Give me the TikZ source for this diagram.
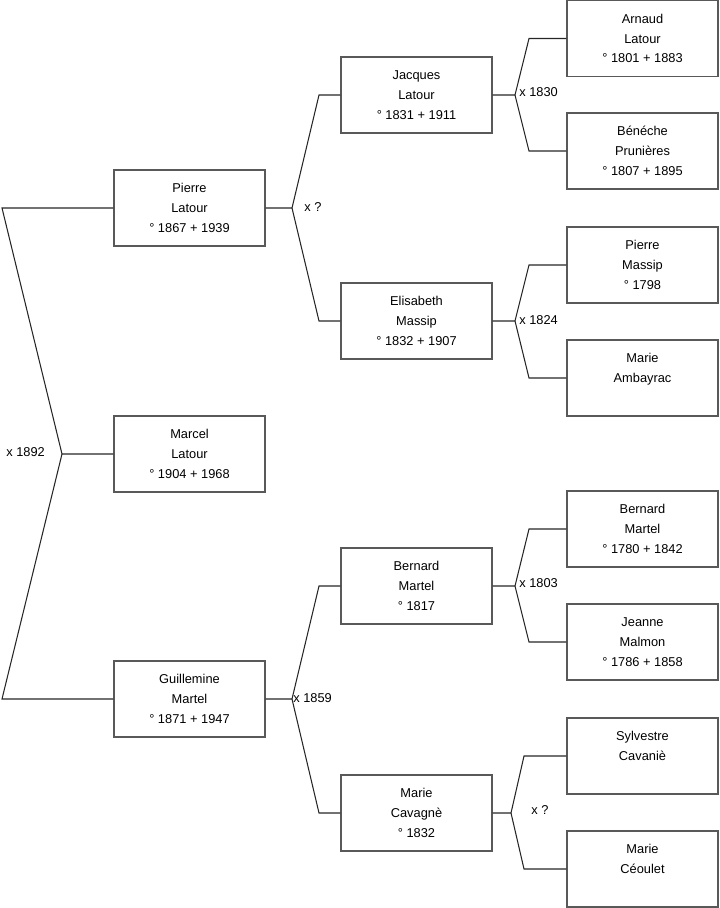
\documentclass[tikz,border=0pt]{standalone}
\usepackage{fontspec}
\setmainfont{Liberation Sans}
\usepackage{tikz}

\begin{document}
\begin{tikzpicture}[
    x=0.02cm, y=-0.02cm,
    person/.style={draw=black!65, line width=0.6pt, minimum width=3.02cm, minimum height=1.52cm,
                   inner sep=0pt, align=center, font=\fontsize{7.3}{11.3}\selectfont},
    link/.style={line width=0.6pt, draw=black!85},
    wed/.style={font=\fontsize{7.3}{8}\selectfont, inner sep=0pt}
  ]
    \useasboundingbox (0,0) rectangle (719,908);
    % generation 0 and 1
    \node[person] (marcel) at (189.5,454) {Marcel\\Latour\\° 1904 + 1968};
    \node[person] (pierre) at (189.5,208) {Pierre\\Latour\\° 1867 + 1939};
    \node[person] (guill) at (189.5,699) {Guillemine\\Martel\\° 1871 + 1947};
    % generation 2
    \node[person] (jacques) at (416.5,95) {Jacques\\Latour\\° 1831 + 1911};
    \node[person] (elisabeth) at (416.5,321) {Elisabeth\\Massip\\° 1832 + 1907};
    \node[person] (bernard) at (416.5,586) {Bernard\\Martel\\° 1817};
    \node[person] (mariecav) at (416.5,813) {Marie\\Cavagnè\\° 1832};
    % generation 3
    \node[person] (arnaud) at (642.5,38.5) {Arnaud\\Latour\\° 1801 + 1883};
    \node[person] (beneche) at (642.5,151) {Bénéche\\Prunières\\° 1807 + 1895};
    \node[person] (pierrem) at (642.5,265) {Pierre\\Massip\\° 1798};
    \node[person] (mariea) at (642.5,378) {Marie\\Ambayrac\\~};
    \node[person] (bernardm) at (642.5,529) {Bernard\\Martel\\° 1780 + 1842};
    \node[person] (jeanne) at (642.5,642) {Jeanne\\Malmon\\° 1786 + 1858};
    \node[person] (sylvestre) at (642.5,756) {Sylvestre\\Cavaniè\\~};
    \node[person] (mariece) at (642.5,869) {Marie\\Céoulet\\~};

    % forks
    \coordinate (f0) at (62,454);
    \coordinate (f0a) at (2,208);
    \coordinate (f0b) at (2,699);
    \coordinate (f1) at (292,208);
    \coordinate (f1a) at (319,95);
    \coordinate (f1b) at (319,321);
    \coordinate (f2) at (292,699);
    \coordinate (f2a) at (319,586);
    \coordinate (f2b) at (319,813);
    \coordinate (f3) at (515,95);
    \coordinate (f3a) at (529,38.5);
    \coordinate (f3b) at (529,151);
    \coordinate (f4) at (515,321);
    \coordinate (f4a) at (529,265);
    \coordinate (f4b) at (529,378);
    \coordinate (f5) at (515,586);
    \coordinate (f5a) at (529,529);
    \coordinate (f5b) at (529,642);
    \coordinate (f6) at (511,813);
    \coordinate (f6a) at (524,756);
    \coordinate (f6b) at (524,869);

    \draw[link] (marcel.west) -- (f0) -- (f0a) -- (pierre.west);
    \draw[link] (f0) -- (f0b) -- (guill.west);
    \draw[link] (pierre.east) -- (f1) -- (f1a) -- (jacques.west);
    \draw[link] (f1) -- (f1b) -- (elisabeth.west);
    \draw[link] (guill.east) -- (f2) -- (f2a) -- (bernard.west);
    \draw[link] (f2) -- (f2b) -- (mariecav.west);
    \draw[link] (jacques.east) -- (f3) -- (f3a) -- (arnaud.west);
    \draw[link] (f3) -- (f3b) -- (beneche.west);
    \draw[link] (elisabeth.east) -- (f4) -- (f4a) -- (pierrem.west);
    \draw[link] (f4) -- (f4b) -- (mariea.west);
    \draw[link] (bernard.east) -- (f5) -- (f5a) -- (bernardm.west);
    \draw[link] (f5) -- (f5b) -- (jeanne.west);
    \draw[link] (mariecav.east) -- (f6) -- (f6a) -- (sylvestre.west);
    \draw[link] (f6) -- (f6b) -- (mariece.west);

    % marriages
    \node[wed, anchor=west] (w0) at (6,452) {x 1892};
    \node[wed, anchor=west] (w1) at (304,207) {x ?};
    \node[wed, anchor=west] (w2) at (293,698) {x 1859};
    \node[wed, anchor=west] (w3) at (519,92) {x 1830};
    \node[wed, anchor=west] (w4) at (519,320) {x 1824};
    \node[wed, anchor=west] (w5) at (519,583) {x 1803};
    \node[wed, anchor=west] (w6) at (531,810) {x ?};
  \end{tikzpicture}
\end{document}
